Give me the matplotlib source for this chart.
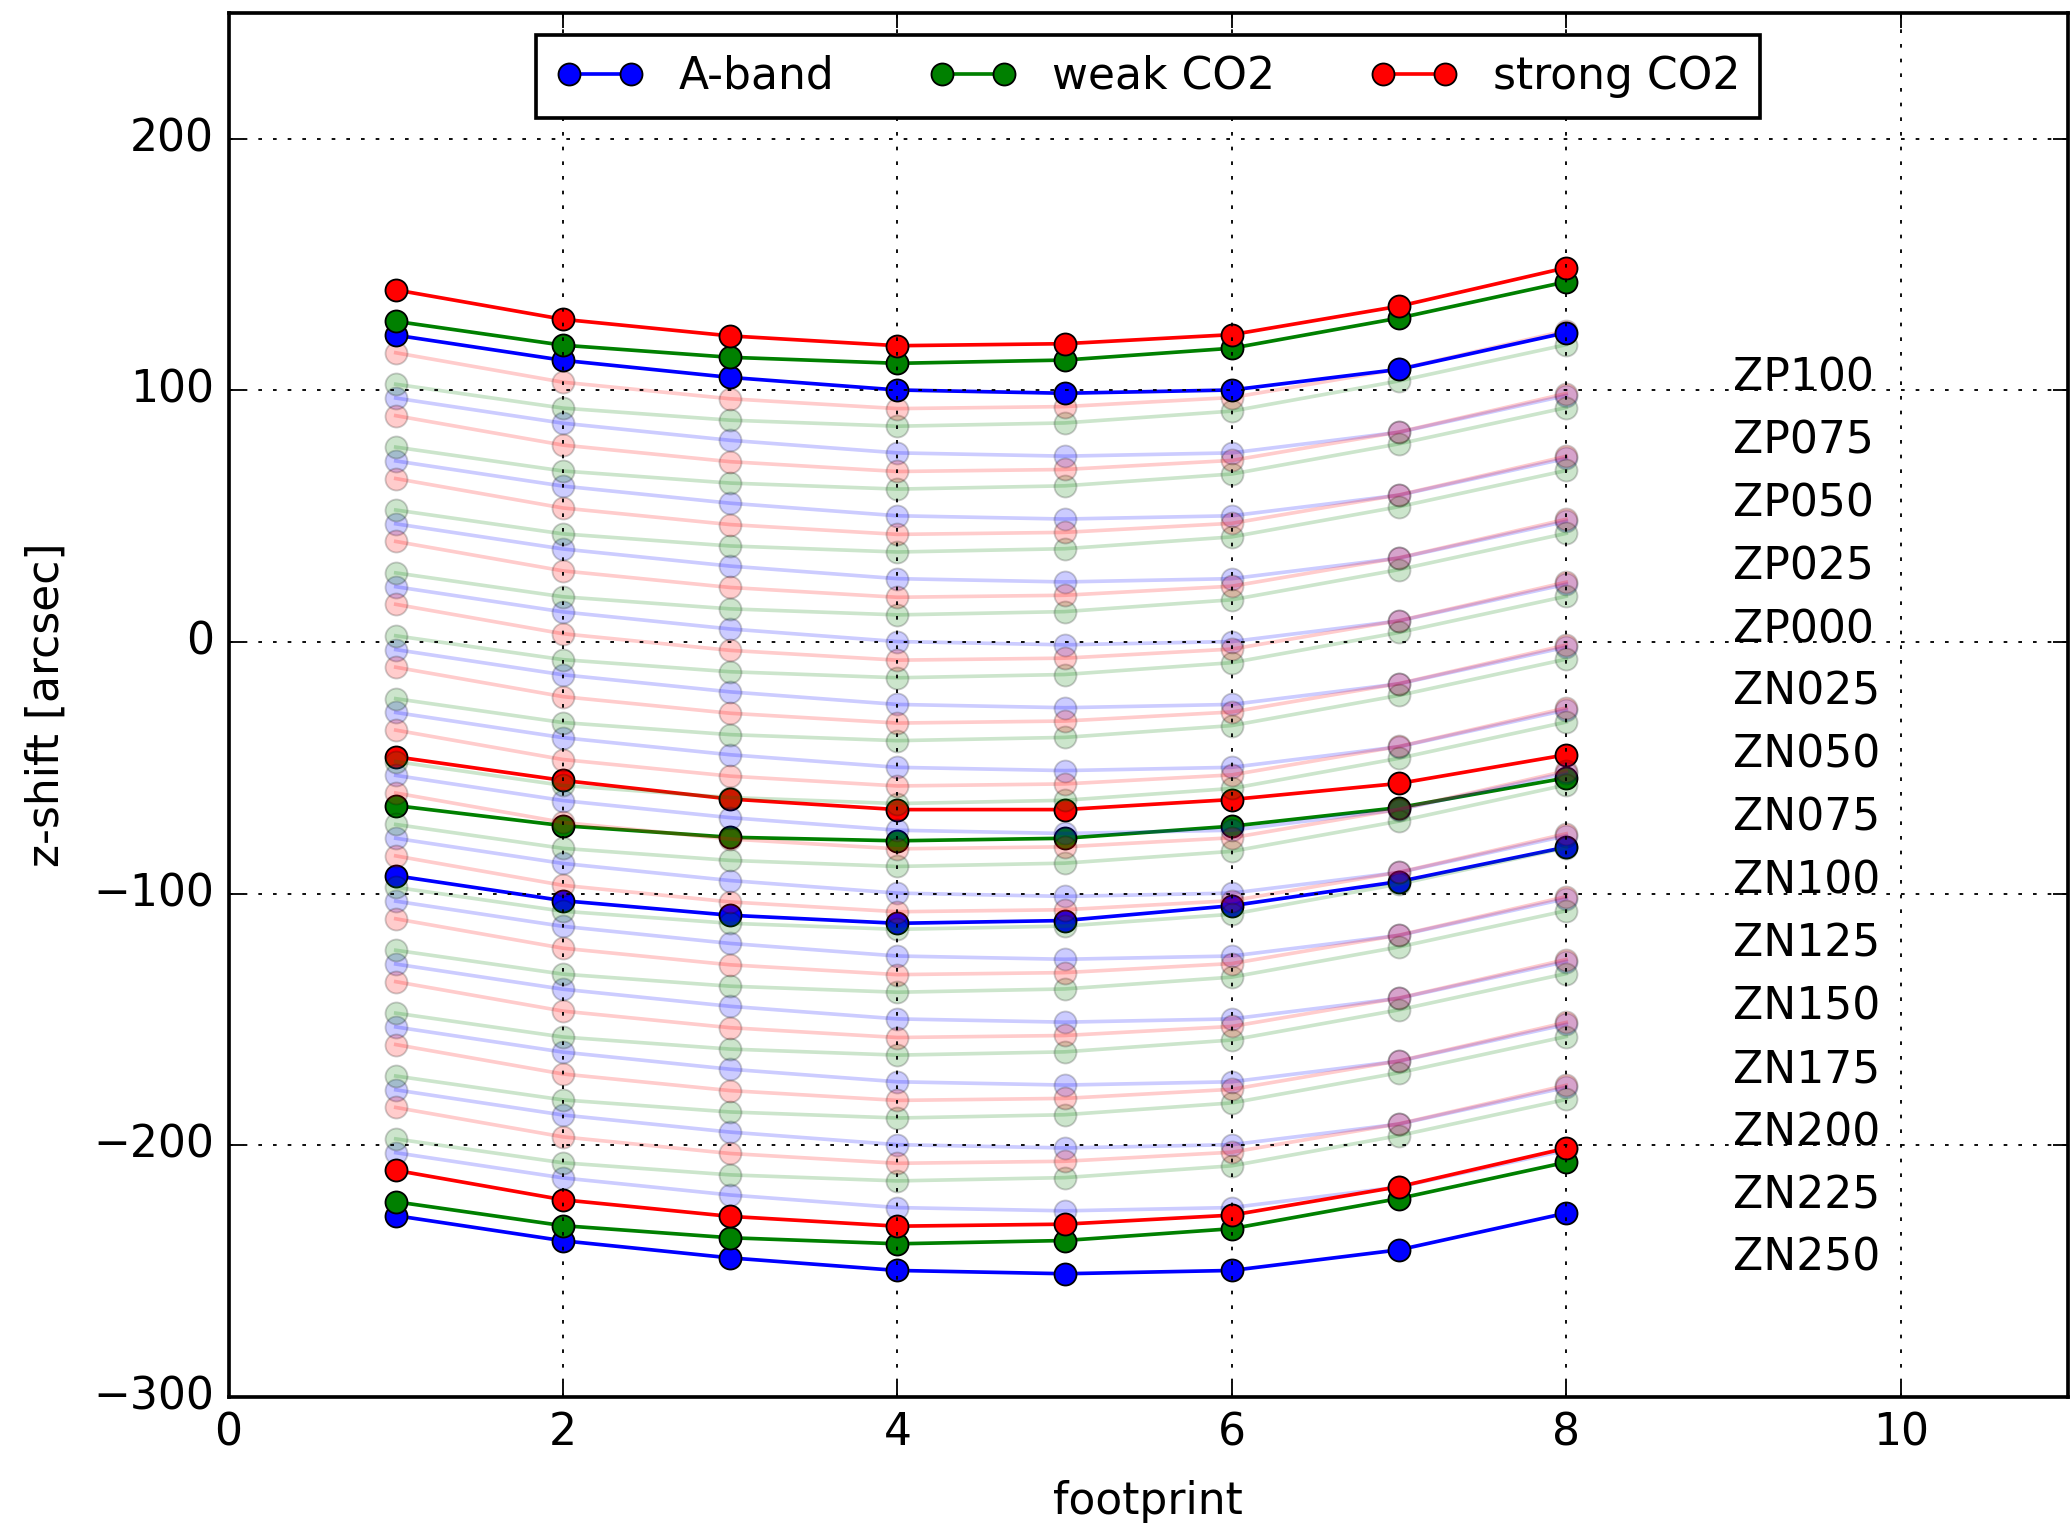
import numpy as np
import matplotlib
matplotlib.use('Agg')
import matplotlib.pyplot as plt

plt.style.use('classic')

footprint = [1, 2, 3, 4, 5, 6, 7, 8]
bands = ['A-band', 'weak CO2', 'strong CO2']
colors = ['b', 'g', 'r']

# z-shift of each footprint relative to the nominal shift (same for every shift)
aband_shape = [22.0, 12.0, 5.2, 0.2, -1.1, 0.2, 8.4, 23.0]
weak_shape = [27.5, 18.0, 13.2, 10.8, 12.1, 16.8, 28.8, 43.2]
strong_shape = [40.0, 28.3, 21.7, 17.8, 18.6, 22.2, 33.5, 48.8]

# nominal shifts
shift_names = ['ZP100', 'ZP075', 'ZP050', 'ZP025', 'ZP000',
               'ZN025', 'ZN050', 'ZN075', 'ZN100', 'ZN125',
               'ZN150', 'ZN175', 'ZN200', 'ZN225', 'ZN250']
shift_values = [100, 75, 50, 25, 0, -25, -50, -75, -100, -125,
                -150, -175, -200, -225, -250]

# measured z-shift
aband_meas = [-92.9, -102.8, -108.6, -111.8, -110.7, -104.8, -95.2, -81.5]
weak_meas = [-65.0, -73.0, -77.6, -79.0, -78.0, -73.2, -65.8, -54.0]
strong_meas = [-45.6, -55.0, -62.4, -66.6, -66.6, -62.6, -56.2, -44.8]

shapes = [aband_shape, weak_shape, strong_shape]
measured = [aband_meas, weak_meas, strong_meas]

fig = plt.figure(figsize=(2072 / 264., 1529 / 264.), dpi=264)
ax = fig.add_subplot(111)
fig.subplots_adjust(left=0.1103, right=0.998, bottom=0.0865, top=0.9914)

x = np.array(footprint)

# measured curves
for meas, c in zip(measured, colors):
    ax.plot(x, meas, '-o', color=c, mec='k', mew=0.5, ms=6, lw=1)

# intermediate shifts, faint
for sv in shift_values[1:-1]:
    for shape, c in zip(shapes, colors):
        ax.plot(x, np.array(shape) + sv, '-o', color=c, mec='k', mew=0.5,
                ms=6, lw=1, alpha=0.2)

# first and last shift
handles = []
for k, sv in enumerate([shift_values[0], shift_values[-1]]):
    for shape, c, name in zip(shapes, colors, bands):
        l, = ax.plot(x, np.array(shape) + sv, '-o', color=c, mec='k',
                     mew=0.5, ms=6, lw=1)
        if k == 0:
            handles.append(l)

for name, sv in zip(shift_names, shift_values):
    ax.text(9, sv, name, fontsize=12)

ax.legend(handles, bands, loc='upper center', ncol=3, numpoints=2,
          fontsize=12, borderpad=0.45, columnspacing=2.15)
ax.set_xlim(0, 11)
ax.set_ylim(-300, 250)
ax.set_yticks([-300, -200, -100, 0, 100, 200])
ax.set_xticks([0, 2, 4, 6, 8, 10])
ax.grid(True)
ax.set_xlabel('footprint', labelpad=7)
ax.set_ylabel('z-shift [arcsec]', labelpad=7)

fig.savefig('out.png', dpi=264, facecolor='white')
